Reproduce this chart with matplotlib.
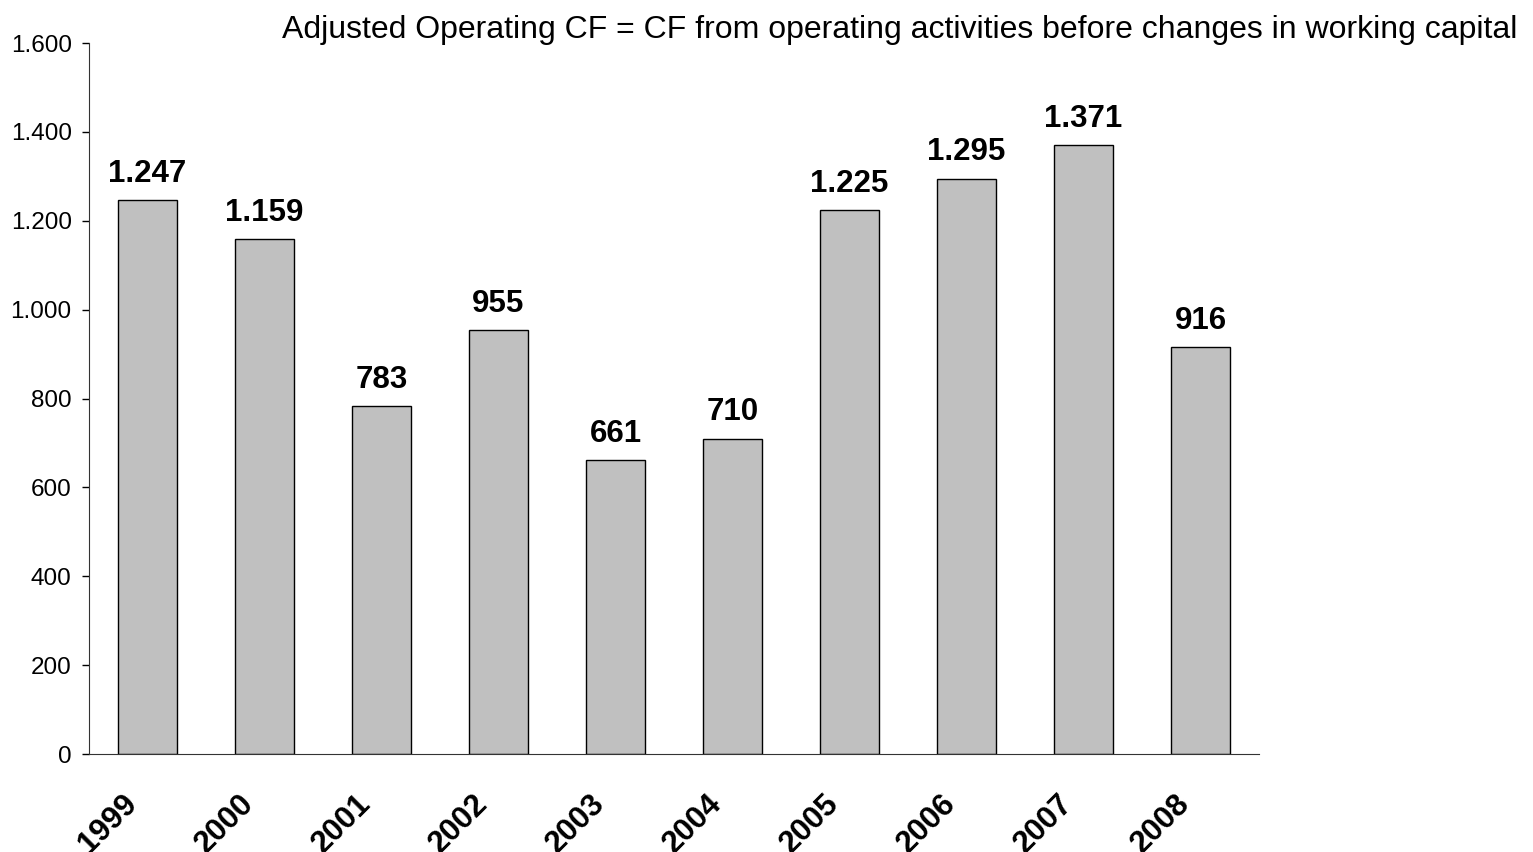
import matplotlib.pyplot as plt
from matplotlib.ticker import FuncFormatter

plt.rcParams['font.family'] = ['Liberation Sans', 'DejaVu Sans']

years = ['1999', '2000', '2001', '2002', '2003', '2004', '2005', '2006', '2007', '2008']
cash_flow = [1247, 1159, 783, 955, 661, 710, 1225, 1295, 1371, 916]
title = 'Adjusted Operating CF = CF from operating activities before changes in working capital'


def dotted(v, pos=None):
    # thousands separator as a dot
    return f'{int(v):,}'.replace(',', '.')


fig = plt.figure(figsize=(15.33, 8.52), dpi=100)
ax = fig.add_axes([0.0581, 0.115, 0.7632, 0.8345])

x = range(len(years))
ax.bar(x, cash_flow, width=0.5, color='#c0c0c0', edgecolor='black', linewidth=1)

for i, v in enumerate(cash_flow):
    ax.annotate(dotted(v), (i, v), xytext=(0, 8), textcoords='offset points',
                ha='center', va='bottom', fontsize=22.5, fontweight='bold')

ax.set_xlim(-0.5, len(years) - 0.5)
ax.set_ylim(0, 1600)
ax.set_yticks(range(0, 1601, 200))
ax.yaxis.set_major_formatter(FuncFormatter(dotted))
ax.tick_params(axis='y', labelsize=17.5, length=5, width=1, pad=7.5)

# year labels, rotated, sitting a bit left of each bar centre
ax.set_xticks(list(x))
ax.set_xticklabels([])
ax.tick_params(axis='x', length=0)
for i, yr in enumerate(years):
    ax.annotate(yr, (i, 0), xycoords=('data', 'axes fraction'),
                xytext=(-10.8, -32.4), textcoords='offset points',
                rotation=45, rotation_mode='anchor', ha='right', va='center',
                fontsize=22.5, fontweight='bold', annotation_clip=False)

ax.spines['top'].set_visible(False)
ax.spines['right'].set_visible(False)
ax.spines['left'].set_color('#333333')
ax.spines['bottom'].set_color('#333333')

fig.text(0.990, 0.965, title, ha='right', va='center', fontsize=23)

fig.savefig('out.png', dpi=100)
